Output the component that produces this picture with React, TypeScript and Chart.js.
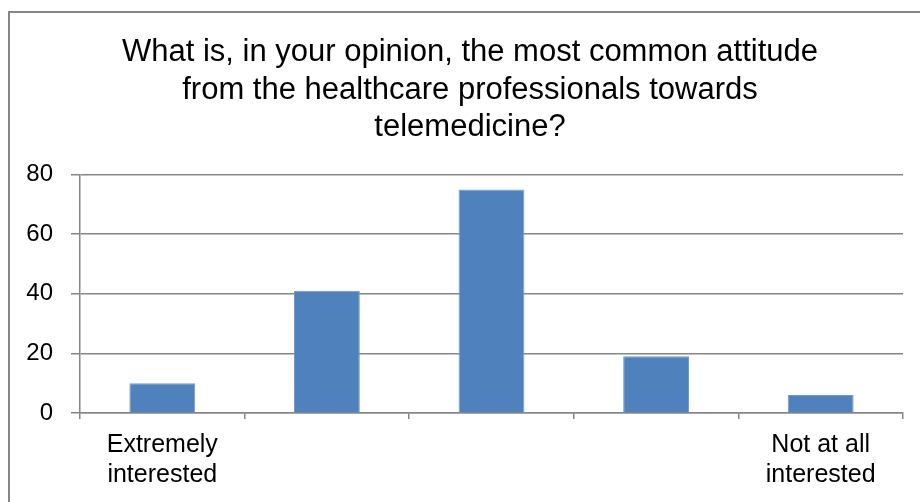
import React, { useEffect, useRef } from "react";
import { Chart, registerables } from "chart.js";

Chart.register(...registerables);

const titleLines = [
  "What is, in your opinion, the most common attitude",
  "from the healthcare professionals towards",
  "telemedicine?",
];
const categories: (string | string[])[] = [
  ["Extremely", "interested"],
  "",
  "",
  "",
  ["Not at all", "interested"],
];
const values = [10, 41, 75, 19, 6];
const yTicks = [0, 20, 40, 60, 80];

const FONT = "'Liberation Sans', Arial, sans-serif";

const borderPlugin = {
  id: "outerBorder",
  beforeDraw(chart: any) {
    const ctx = chart.ctx;
    ctx.save();
    ctx.fillStyle = "#ffffff";
    ctx.fillRect(0, 0, chart.width, chart.height);
    ctx.strokeStyle = "#868686";
    ctx.lineWidth = 2;
    ctx.beginPath();
    ctx.moveTo(9, chart.height + 5);
    ctx.lineTo(9, 12);
    ctx.lineTo(chart.width + 5, 12);
    ctx.stroke();
    ctx.restore();
  },
};

export default function App() {
  const ref = useRef<HTMLCanvasElement>(null);
  useEffect(() => {
    document.body.style.margin = "0";
    const chart = new Chart(ref.current!, {
      type: "bar",
      data: {
        labels: categories,
        datasets: [
          {
            data: values,
            backgroundColor: "#4F81BD",
            borderColor: "#6f9bd0",
            borderWidth: 1,
            categoryPercentage: 0.4,
            barPercentage: 1,
          },
        ],
      },
      plugins: [borderPlugin],
      options: {
        animation: false,
        responsive: false,
        layout: { padding: { left: 20, right: 0, top: 0, bottom: 0 } },
        plugins: {
          legend: { display: false },
          tooltip: { enabled: false },
          title: {
            display: true,
            text: titleLines,
            color: "#000000",
            font: { family: FONT, size: 31, weight: "normal", lineHeight: 1.21 },
            padding: { top: 34, bottom: 28 },
          },
        },
        scales: {
          x: {
            offset: true,
            grid: {
              offset: true,
              drawOnChartArea: false,
              drawTicks: true,
              tickLength: 6,
              color: "#868686",
              lineWidth: 1.5,
            },
            border: { display: true, color: "#868686", width: 1.5 },
            ticks: {
              color: "#000000",
              font: { family: FONT, size: 25, lineHeight: 1.2 },
              padding: 11,
              maxRotation: 0,
              autoSkip: false,
            },
            afterFit: (s: any) => {
              s.height = 89;
            },
          },
          y: {
            min: 0,
            max: 80,
            afterBuildTicks: (s: any) => {
              s.ticks = yTicks.map((v) => ({ value: v }));
            },
            grid: {
              color: "#868686",
              lineWidth: 1.5,
              drawTicks: true,
              tickLength: 9,
            },
            border: { display: true, color: "#868686", width: 1.5 },
            ticks: {
              color: "#000000",
              font: { family: FONT, size: 24 },
              padding: 18,
            },
            afterFit: (s: any) => {
              s.width = 60;
            },
          },
          y2: {
            position: "right",
            display: true,
            min: 0,
            max: 80,
            grid: { drawOnChartArea: false, drawTicks: false },
            border: { display: false },
            ticks: { display: false },
            afterFit: (s: any) => {
              s.width = 17;
            },
          },
        },
      },
    } as any);
    return () => chart.destroy();
  }, []);
  return (
    <div style={{ width: 920, height: 502 }}>
      <canvas ref={ref} width={920} height={502} style={{ display: "block" }} />
    </div>
  );
}
